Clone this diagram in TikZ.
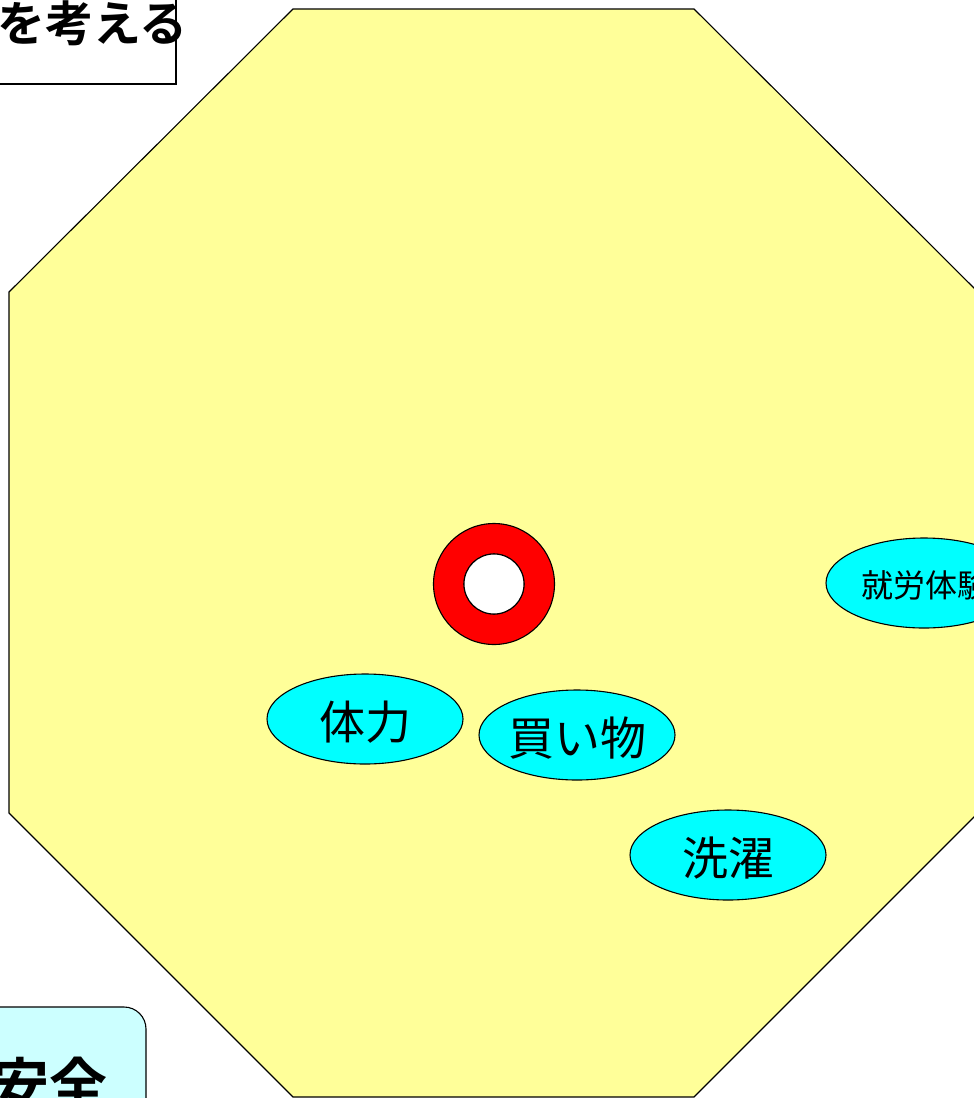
\documentclass[tikz,border=0pt]{standalone}
\usepackage{fontspec}
\newfontfamily\cjk{Noto Sans CJK JP}
\newfontfamily\cjkb{Noto Sans CJK JP Bold}
\usetikzlibrary{shapes.geometric}
\definecolor{octfill}{HTML}{FFFF99}
\definecolor{ellfill}{HTML}{00FFFF}
\definecolor{boxfill}{HTML}{CCFFFF}
\tikzset{
  ell/.style={ellipse, draw=black, line width=1.1pt, fill=ellfill, minimum width=196pt, minimum height=90pt, inner sep=0pt},
  lbl/.style={inner sep=0pt, font=\cjk}
}
\begin{document}
\begin{tikzpicture}[x=1pt,y=-1pt]
\useasboundingbox (0,0) rectangle (974,1098);
\clip (0,0) rectangle (974,1098);
\fill[white] (0,0) rectangle (974,1098);
% octagon
\draw[fill=octfill, line width=1.1pt] (293,9) -- (694,9) -- (978,292) -- (978,813) -- (694,1097) -- (293,1097) -- (9,813) -- (9,292) -- cycle;
% top-left box
\node[draw=black, line width=1.1pt, fill=white, minimum width=230pt, minimum height=140pt, inner sep=0pt] (topbox) at (61,14) {};
\node[lbl, font=\cjkb\fontsize{48}{52}\selectfont, anchor=east] (toptext) at (188,23) {を考える};
% bottom-left rounded box
\node[draw=black, line width=1.1pt, fill=boxfill, rounded corners=22pt, minimum width=230pt, minimum height=180pt, inner sep=0pt] (botbox) at (31,1097) {};
\node[lbl, font=\cjkb\fontsize{58}{62}\selectfont, anchor=east] (bottext) at (108,1084) {安全};
% donut
\draw[fill=red, line width=1.1pt, even odd rule] (494,584) circle[radius=60.5] (494,584) circle[radius=30];
\draw[fill=white, line width=1.1pt] (494,584) circle[radius=30];
\node[inner sep=0pt, minimum size=1pt] (donut) at (494,584) {};
% ellipses
\node[ell] (tairyoku) at (365,719) {};
\node[lbl, font=\cjk\fontsize{46}{48}\selectfont] (t1) at (365,722) {体力};
\node[ell] (kaimono) at (577,735) {};
\node[lbl, font=\cjk\fontsize{46}{48}\selectfont] (t2) at (577,738) {買い物};
\node[ell] (sentaku) at (728,855) {};
\node[lbl, font=\cjk\fontsize{46}{48}\selectfont] (t3) at (728,858) {洗濯};
\node[ell] (shuro) at (924,583) {};
\node[lbl, font=\cjk\fontsize{32}{36}\selectfont, anchor=west] (t4) at (861,585) {就労体験};
\end{tikzpicture}
\end{document}
